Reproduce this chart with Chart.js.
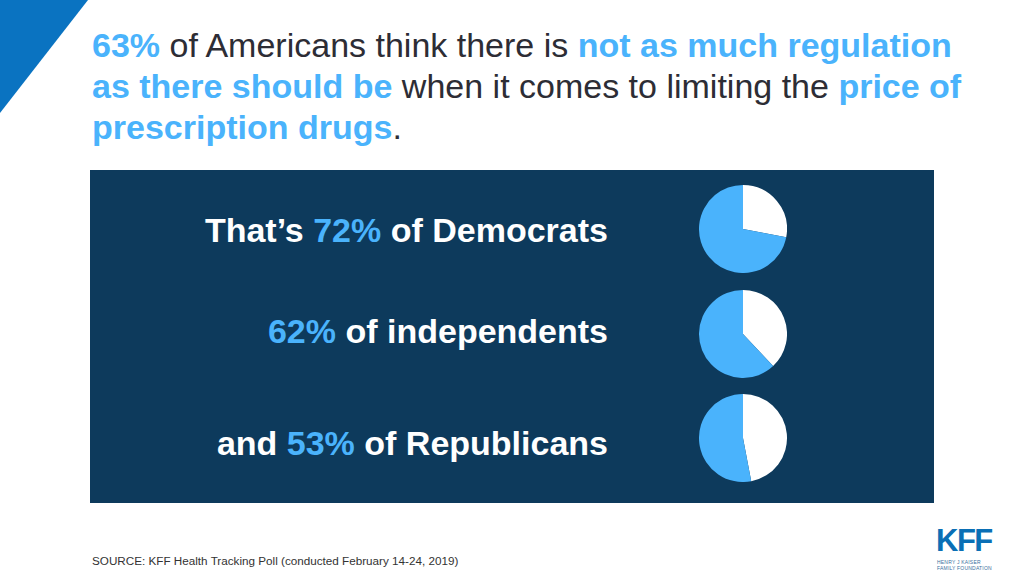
<!DOCTYPE html>
<html>
<head>
<meta charset="utf-8">
<script src="https://cdn.jsdelivr.net/npm/chart.js@4"></script>
<style>
  body { margin: 0; width: 1024px; height: 576px; background: #fff; position: relative; overflow: hidden;
         font-family: "Liberation Sans", Arial, sans-serif; }
  .corner { position: absolute; left: 0; top: 0; width: 0; height: 0;
            border-top: 113px solid #0a73c1; border-right: 88px solid transparent; }
  .tline { position: absolute; left: 92px; font-size: 34px; line-height: 36px; color: #2d2d35; white-space: nowrap; }
  .hl { color: #4ab3fc; font-weight: bold; }
  .panel { position: absolute; left: 90px; top: 170px; width: 844px; height: 333px; background: #0d3a5c; }
  .row { position: absolute; right: 416px; color: #fff; font-weight: bold; font-size: 34px; line-height: 38px; white-space: nowrap; }
  .pie { position: absolute; }
  .source { position: absolute; left: 92px; top: 554px; font-size: 11.7px; color: #333; }
  .kff { position: absolute; left: 936px; top: 524px; color: #0a6fb5; font-size: 31px; font-weight: bold;
         letter-spacing: -1.5px; line-height: 34px; }
  .kffsub { position: absolute; left: 937px; top: 560px; font-size: 5px; line-height: 5.5px; color: #3a6fa0; letter-spacing: 0.2px; }
</style>
</head>
<body>
<div class="corner"></div>
<div class="tline" style="top:27px"><span class="hl">63%</span><span> of Americans think there is </span><span class="hl">not as much regulation</span></div>
<div class="tline" style="top:68px"><span class="hl">as there should be</span><span> when it comes to limiting the </span><span class="hl">price of</span></div>
<div class="tline" style="top:109px"><span class="hl">prescription drugs</span><span>.</span></div>
<div class="panel"></div>
<div class="row" style="top:211px"><span>That’s </span><span class="hl">72%</span><span> of Democrats</span></div>
<div class="row" style="top:312px"><span class="hl">62%</span><span> of independents</span></div>
<div class="row" style="top:424px"><span>and </span><span class="hl">53%</span><span> of Republicans</span></div>
<canvas class="pie" id="pie0" width="88" height="88" style="left:699px;top:185px"></canvas>
<canvas class="pie" id="pie1" width="88" height="88" style="left:699px;top:290px"></canvas>
<canvas class="pie" id="pie2" width="88" height="88" style="left:699px;top:394px"></canvas>
<div class="source">SOURCE: KFF Health Tracking Poll (conducted February 14-24, 2019)</div>
<div class="kff">KFF</div>
<div class="kffsub">HENRY J KAISER<br>FAMILY FOUNDATION</div>
<script>
const groups = ['Democrats', 'independents', 'Republicans'];
const notEnough = [72, 62, 53];
const otherAnswers = [28, 38, 47];
const sliceLabels = ['Other', 'Not as much regulation as there should be'];

groups.forEach((group, i) => {
  new Chart(document.getElementById('pie' + i), {
    type: 'pie',
    data: {
      labels: sliceLabels,
      datasets: [{
        label: group,
        data: [otherAnswers[i], notEnough[i]],
        backgroundColor: ['#ffffff', '#4ab3fc'],
        borderWidth: 0
      }]
    },
    options: {
      responsive: false,
      animation: false,
      layout: { padding: 0 },
      plugins: { legend: { display: false }, tooltip: { enabled: false } }
    }
  });
});
</script>
</body>
</html>
